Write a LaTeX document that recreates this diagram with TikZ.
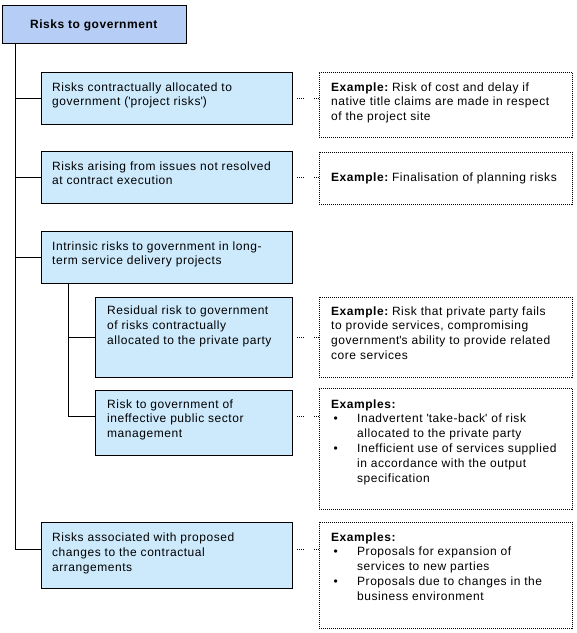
\documentclass[tikz,border=0pt]{standalone}
\usepackage{fontspec}
\setmainfont{Liberation Sans}[LetterSpace=4.5]
\usetikzlibrary{positioning}
\definecolor{topblue}{RGB}{182,205,245}
\definecolor{boxblue}{RGB}{205,234,253}
\newcommand\sq{\textquotesingle}
\newcommand\exlabel[1]{\textbf{#1}\hspace{-2pt}}
\newcommand\bul[1]{\hspace*{2.5pt}\makebox[23.5pt][l]{\large\textbullet}#1}
\newcommand\ind[1]{\hspace*{26pt}#1}
\tikzset{
  x=1pt, y=-1pt,
  topbox/.style={draw=black, line width=1pt, fill=topblue, anchor=north west, inner sep=0pt},
  bluebox/.style={draw=black, line width=1pt, fill=boxblue, anchor=north west, inner sep=0pt},
  exbox/.style={draw=black, line width=0.9pt, dash pattern=on 1pt off 1pt, anchor=north west, inner sep=0pt},
  txt/.style={anchor=base west, inner sep=0pt, font=\fontsize{12pt}{14.8pt}\selectfont},
  tree/.style={draw=black, line width=1pt},
  dots/.style={draw=black, line width=0.9pt, dash pattern=on 1pt off 1pt},
}
\newcommand\lines[1]{\begin{tabular}[t]{@{}l@{}}#1\end{tabular}}
\begin{document}
\begin{tikzpicture}
\useasboundingbox[fill=white] (0,0) rectangle (577,633);

% boxes
\node[topbox, minimum width=184pt, minimum height=38pt] (top) at (2,5) {};
\node[bluebox, minimum width=251pt, minimum height=52pt] (b1) at (41,72) {};
\node[exbox, minimum width=253pt, minimum height=65pt] (e1) at (319,72) {};
\node[bluebox, minimum width=251pt, minimum height=52pt] (b2) at (41,151) {};
\node[exbox, minimum width=253pt, minimum height=52pt] (e2) at (319,152) {};
\node[bluebox, minimum width=251pt, minimum height=52pt] (b3) at (41,231) {};
\node[bluebox, minimum width=197pt, minimum height=80pt] (b4) at (95,297) {};
\node[exbox, minimum width=253pt, minimum height=80pt] (e4) at (319,297) {};
\node[bluebox, minimum width=197pt, minimum height=65pt] (b5) at (95,390) {};
\node[exbox, minimum width=253pt, minimum height=121pt] (e5) at (319,388) {};
\node[bluebox, minimum width=251pt, minimum height=66pt] (b6) at (41,522) {};
\node[exbox, minimum width=253pt, minimum height=106pt] (e6) at (319,522) {};

% texts
\node[txt, anchor=base] (topt) at (94,28) {\textbf{Risks to government}};
\node[txt] (b1t) at ([xshift=11pt,yshift=-19pt]b1.north west)
  {\lines{Risks contractually allocated to\\government (\sq project risks\sq)}};
\node[txt] (e1t) at ([xshift=12pt,yshift=-19pt]e1.north west)
  {\lines{\exlabel{Example:} Risk of cost and delay if\\native title claims are made in respect\\of the project site}};
\node[txt] (b2t) at ([xshift=11pt,yshift=-19pt]b2.north west)
  {\lines{Risks arising from issues not resolved\\at contract execution}};
\node[txt] (e2t) at ([xshift=12pt,yshift=-29pt]e2.north west)
  {\exlabel{Example:} Finalisation of planning risks};
\node[txt] (b3t) at ([xshift=11pt,yshift=-19pt]b3.north west)
  {\lines{Intrinsic risks to government in long-\\term service delivery projects}};
\node[txt] (b4t) at ([xshift=12pt,yshift=-17.5pt]b4.north west)
  {\lines{Residual risk to government\\of risks contractually\\allocated to the private party}};
\node[txt] (e4t) at ([xshift=12pt,yshift=-18pt]e4.north west)
  {\lines{\exlabel{Example:} Risk that private party fails\\to provide services, compromising\\government\sq s ability to provide related\\core services}};
\node[txt] (b5t) at ([xshift=12pt,yshift=-18pt]b5.north west)
  {\lines{Risk to government of\\ineffective public sector\\management}};
\node[txt] (e5t) at ([xshift=12pt,yshift=-20pt]e5.north west)
  {\lines{\textbf{Examples:}\\\bul{Inadvertent \sq take-back\sq\ of risk}\\\ind{allocated to the private party}\\\bul{Inefficient use of services supplied}\\\ind{in accordance with the output}\\\ind{specification}}};
\node[txt] (b6t) at ([xshift=11pt,yshift=-19.5pt]b6.north west)
  {\lines{Risks associated with proposed\\changes to the contractual\\arrangements}};
\node[txt] (e6t) at ([xshift=12pt,yshift=-19pt]e6.north west)
  {\lines{\textbf{Examples:}\\\bul{Proposals for expansion of}\\\ind{services to new parties}\\\bul{Proposals due to changes in the}\\\ind{business environment}}};

% tree connectors
\coordinate (t0) at ([xshift=13pt]top.south west);
\coordinate (c5) at ([yshift=6.5pt]b5.west);
\coordinate (c6) at ([yshift=6pt]b6.west);
\coordinate (s0) at ([xshift=27pt]b3.south west);
\draw[tree] (t0) |- (c6);
\draw[tree] (t0 |- b1.west) -- (b1.west);
\draw[tree] (t0 |- b2.west) -- (b2.west);
\draw[tree] (t0 |- b3.west) -- (b3.west);
\draw[tree] (s0) |- (c5);
\draw[tree] (s0 |- b4.west) -- (b4.west);

% dotted links
\coordinate (d1) at (b1.east -| e1.west);
\coordinate (d2) at (b2.east -| e2.west);
\coordinate (d4) at (b4.east -| e4.west);
\coordinate (c5e) at ([yshift=6.5pt]b5.east);
\coordinate (d5) at (c5e -| e5.west);
\coordinate (c6e) at ([yshift=6pt]b6.east);
\coordinate (d6) at (c6e -| e6.west);
\foreach \a/\b in {b1.east/d1, b2.east/d2, b4.east/d4, c5e/d5, c6e/d6}{
  \draw[dots, shorten <=4pt, shorten >=14pt] (\a) -- (\b);
  \draw[dots, shorten <=21pt] (\a) -- (\b);
}
\end{tikzpicture}
\end{document}
